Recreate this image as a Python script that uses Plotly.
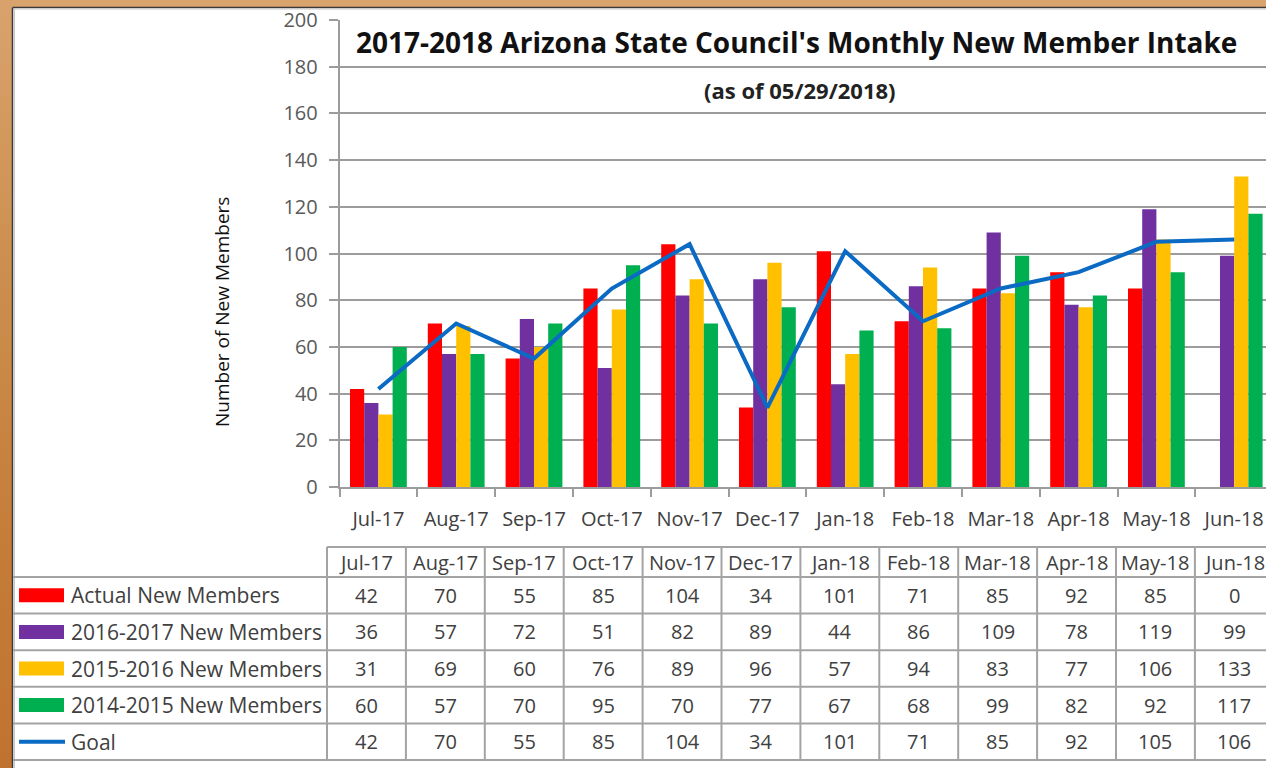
import plotly.graph_objects as go

# ---------------- data ----------------
months = ["Jul-17", "Aug-17", "Sep-17", "Oct-17", "Nov-17", "Dec-17",
          "Jan-18", "Feb-18", "Mar-18", "Apr-18", "May-18", "Jun-18"]
actual = [42, 70, 55, 85, 104, 34, 101, 71, 85, 92, 85, 0]
members_1617 = [36, 57, 72, 51, 82, 89, 44, 86, 109, 78, 119, 99]
members_1516 = [31, 69, 60, 76, 89, 96, 57, 94, 83, 77, 106, 133]
members_1415 = [60, 57, 70, 95, 70, 77, 67, 68, 99, 82, 92, 117]
goal = [42, 70, 55, 85, 104, 34, 101, 71, 85, 92, 105, 106]

series_names = ["Actual New Members", "2016-2017 New Members",
                "2015-2016 New Members", "2014-2015 New Members", "Goal"]
series_values = [actual, members_1617, members_1516, members_1415, goal]
bar_colors = ["#FF0000", "#7030A0", "#FFC000", "#00B050"]
goal_color = "#0A6AC4"

title_text = "2017-2018 Arizona State Council's Monthly New Member Intake"
subtitle_text = "(as of 05/29/2018)"
y_title = "Number of New Members"

# ---------------- geometry helpers ----------------
W, H = 1266, 768
FONT = "Open Sans"
TXT = "#404040"
GRID = "#9C9C9C"


def X(px):
    return px / W


def Y(py):
    return 1 - py / H


fig = go.Figure()

for name, vals, col in zip(series_names[:4], series_values[:4], bar_colors):
    fig.add_trace(go.Bar(x=months, y=vals, name=name, marker_color=col,
                         marker_line_width=0))

fig.add_trace(go.Scatter(x=months, y=goal, name="Goal", mode="lines",
                         line=dict(color=goal_color, width=4)))

plot_left, plot_top, plot_bottom = 339.5, 20, 487
cat_w = 77.8
x_max = -0.5 + (W - plot_left) / cat_w

fig.update_layout(
    width=W, height=H, autosize=False,
    margin=dict(l=0, r=0, t=0, b=0, pad=0),
    paper_bgcolor="white", plot_bgcolor="rgba(0,0,0,0)",
    showlegend=False,
    barmode="group", bargap=0.27, bargroupgap=0,
    font=dict(family=FONT, color=TXT),
    xaxis=dict(domain=[X(plot_left), 1], range=[-0.5, x_max],
               type="category", showgrid=False, zeroline=False,
               showline=True, linecolor=GRID, linewidth=1.5,
               ticks="outside", ticklen=8, tickwidth=1.5, tickcolor=GRID,
               tickson="boundaries", tickangle=0, ticklabelstandoff=13,
               tickfont=dict(family=FONT, size=20, color=TXT),
               automargin=False, fixedrange=True),
    yaxis=dict(domain=[Y(plot_bottom), Y(plot_top)], range=[0, 200],
               dtick=20, showgrid=True, gridcolor=GRID, gridwidth=1.5,
               zeroline=False, showline=True, linecolor=GRID, linewidth=1.5,
               ticks="outside", ticklen=9, tickwidth=1.5, tickcolor=GRID,
               ticklabelstandoff=7,
               tickfont=dict(family=FONT, size=20, color="#595959"),
               automargin=False, fixedrange=True),
)

shapes = []
# top brown band
shapes.append(dict(type="rect", xref="paper", yref="paper", x0=0, x1=1,
                   y0=Y(7), y1=1, fillcolor="#D9A36D", line_width=0))
# left brown band with vertical gradient
stops = [(0, (217, 163, 109)), (250, (205, 144, 80)), (550, (197, 124, 56)),
         (768, (192, 115, 46))]
nseg = 48
for i in range(nseg):
    y0p = i * H / nseg
    y1p = (i + 1) * H / nseg
    ym = (y0p + y1p) / 2
    for (a, ca), (b, cb) in zip(stops[:-1], stops[1:]):
        if a <= ym <= b:
            t = (ym - a) / (b - a)
            c = tuple(int(round(ca[k] + (cb[k] - ca[k]) * t)) for k in range(3))
            break
    shapes.append(dict(type="rect", xref="paper", yref="paper", x0=0,
                       x1=X(12), y0=Y(y1p + 0.5), y1=Y(y0p),
                       fillcolor="rgb(%d,%d,%d)" % c, line_width=0))
# dark frame lines
shapes.append(dict(type="line", xref="paper", yref="paper", x0=X(12.5),
                   x1=1, y0=Y(7.5), y1=Y(7.5),
                   line=dict(color="#3A3A3A", width=1.5)))
shapes.append(dict(type="line", xref="paper", yref="paper", x0=X(12.5),
                   x1=X(12.5), y0=0, y1=Y(7.5),
                   line=dict(color="#3A3A3A", width=1.5)))
shapes.append(dict(type="line", xref="paper", yref="paper", x0=X(14.5),
                   x1=X(14.5), y0=0, y1=Y(9),
                   line=dict(color="#C8C8C8", width=1)))
shapes.append(dict(type="line", xref="paper", yref="paper", x0=X(14.5),
                   x1=1, y0=Y(9), y1=Y(9),
                   line=dict(color="#C8C8C8", width=1)))

# ---------------- data table ----------------
tbl_left = 327
col_w = 78.9
hdr_top, hdr_bot = 547, 577
row_h = 36.6
n_rows = len(series_names)
line_style = dict(color="#A3A3A3", width=2)

shapes.append(dict(type="line", xref="paper", yref="paper", x0=X(tbl_left),
                   x1=1, y0=Y(hdr_top), y1=Y(hdr_top), line=line_style))
for r in range(n_rows + 1):
    yy = hdr_bot + r * row_h
    shapes.append(dict(type="line", xref="paper", yref="paper", x0=X(13),
                       x1=1, y0=Y(yy), y1=Y(yy), line=line_style))
table_bottom = hdr_bot + n_rows * row_h
for c in range(len(months) + 1):
    xx = tbl_left + c * col_w
    if xx > W:
        break
    shapes.append(dict(type="line", xref="paper", yref="paper", x0=X(xx),
                       x1=X(xx), y0=Y(table_bottom), y1=Y(hdr_top),
                       line=line_style))

annotations = []
tfont = dict(family=FONT, size=20, color=TXT)
lfont = dict(family=FONT, size=21, color=TXT)
for c, m in enumerate(months):
    cx = tbl_left + (c + 0.5) * col_w
    annotations.append(dict(xref="paper", yref="paper", x=X(cx),
                            y=Y((hdr_top + hdr_bot) / 2), text=m,
                            showarrow=False, xanchor="center",
                            yanchor="middle", font=tfont))
for r, (name, vals) in enumerate(zip(series_names, series_values)):
    cy = hdr_bot + (r + 0.5) * row_h
    # legend key
    if r < 4:
        shapes.append(dict(type="rect", xref="paper", yref="paper",
                           x0=X(19), x1=X(64), y0=Y(cy + 7), y1=Y(cy - 7),
                           fillcolor=bar_colors[r], line_width=0))
    else:
        shapes.append(dict(type="line", xref="paper", yref="paper",
                           x0=X(19), x1=X(65), y0=Y(cy), y1=Y(cy),
                           line=dict(color=goal_color, width=4)))
    annotations.append(dict(xref="paper", yref="paper", x=X(69), y=Y(cy),
                            text=name, showarrow=False, xanchor="left",
                            yanchor="middle", font=lfont))
    for c, v in enumerate(vals):
        cx = tbl_left + (c + 0.5) * col_w
        annotations.append(dict(xref="paper", yref="paper", x=X(cx),
                                y=Y(cy), text=str(v), showarrow=False,
                                xanchor="center", yanchor="middle",
                                font=tfont))

# titles
annotations.append(dict(xref="paper", yref="paper", x=X(796), y=Y(42),
                        text="<b>" + title_text + "</b>", showarrow=False,
                        xanchor="center", yanchor="middle",
                        font=dict(family=FONT, size=28, color="#111111")))
annotations.append(dict(xref="paper", yref="paper", x=X(800), y=Y(90),
                        text="<b>" + subtitle_text + "</b>", showarrow=False,
                        xanchor="center", yanchor="middle",
                        font=dict(family=FONT, size=22, color="#222222")))
annotations.append(dict(xref="paper", yref="paper", x=X(222), y=Y(312),
                        text=y_title, showarrow=False, textangle=-90,
                        xanchor="center", yanchor="middle",
                        font=dict(family=FONT, size=19, color="#111111")))

fig.update_layout(shapes=shapes, annotations=annotations)
fig.write_html(
    "out.html",
    config={"displayModeBar": False},
    post_script="document.body.style.margin='0';"
                "document.body.style.overflow='hidden';",
)
